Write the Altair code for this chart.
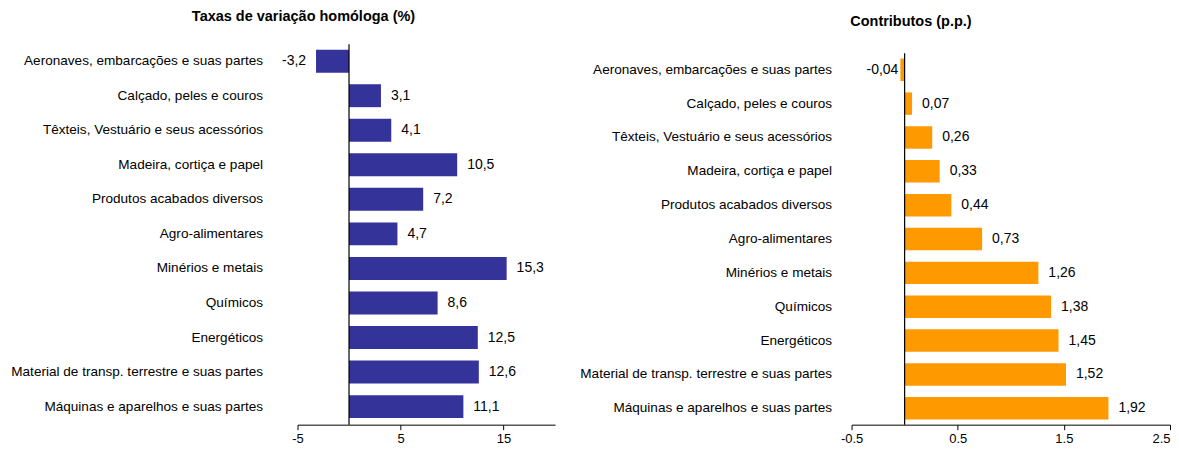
import altair as alt
import pandas as pd

categories = [
    "Aeronaves, embarcações e suas partes",
    "Calçado, peles e couros",
    "Têxteis, Vestuário e seus acessórios",
    "Madeira, cortiça e papel",
    "Produtos acabados diversos",
    "Agro-alimentares",
    "Minérios e metais",
    "Químicos",
    "Energéticos",
    "Material de transp. terrestre e suas partes",
    "Máquinas e aparelhos e suas partes",
]
taxas = [-3.2, 3.1, 4.1, 10.5, 7.2, 4.7, 15.3, 8.6, 12.5, 12.6, 11.1]
contributos = [-0.04, 0.07, 0.26, 0.33, 0.44, 0.73, 1.26, 1.38, 1.45, 1.52, 1.92]

FONT = "Liberation Sans, Arial, sans-serif"
H = 381


def fmt(v, d):
    return f"{v:.{d}f}".replace(".", ",")


df1 = pd.DataFrame({"cat": categories, "v": taxas, "lab": [fmt(v, 1) for v in taxas]})
df2 = pd.DataFrame({"cat": categories, "v": contributos, "lab": [fmt(v, 2) for v in contributos]})
zero = pd.DataFrame({"z": [0]})


def panel(df, color, domain, ticks, title, title_dx, width, label_pad, neg_dx,
          title_offset, y_scale, rule_top, label_align):
    y = alt.Y(
        "cat:N",
        sort=categories,
        title=None,
        scale=alt.Scale(**y_scale),
        axis=alt.Axis(
            domain=False, ticks=False, labelPadding=label_pad, labelFont=FONT,
            labelFontSize=13.6, labelColor="black", labelLimit=400,
        ),
    )
    x = alt.X(
        "v:Q",
        title=None,
        scale=alt.Scale(domain=domain, nice=False, zero=False),
        axis=alt.Axis(
            values=ticks, grid=False, domainColor="black", tickColor="black",
            tickSize=5, labelFont=FONT, labelFontSize=13, labelColor="black",
            labelPadding=3, labelFlush=False, labelExpr="toString(datum.value)",
            labelAlign=label_align,
        ),
    )
    base = alt.Chart(df)
    bars = base.mark_bar(color=color).encode(x=x, y=y, x2=alt.datum(0))
    pos = base.transform_filter("datum.v >= 0").mark_text(
        align="left", dx=10, font=FONT, fontSize=14, color="black"
    ).encode(x="v:Q", y=alt.Y("cat:N", sort=categories), text="lab:N")
    neg = base.transform_filter("datum.v < 0").mark_text(
        align="right", dx=neg_dx, font=FONT, fontSize=14, color="black"
    ).encode(x="v:Q", y=alt.Y("cat:N", sort=categories), text="lab:N")
    rule = alt.Chart(zero).mark_rule(color="black", strokeWidth=1.2).encode(
        x="z:Q", y=alt.value(rule_top), y2=alt.value(H)
    )
    return alt.layer(bars, rule, pos, neg).properties(
        width=width,
        height=H,
        title=alt.TitleParams(
            title, anchor="middle", frame="group", dx=title_dx, font=FONT,
            fontSize=14.5, fontWeight="bold", color="black", offset=title_offset,
        ),
    )


left = panel(
    df1, "#333399", [-5, 20], [-5, 5, 15], "Taxas de variação homóloga (%)",
    -123, 258, 35, -10, 19,
    {"paddingInner": 0.336, "paddingOuter": 0.173, "align": 0.45}, 0, "center",
)
right = panel(
    df2, "#FF9900", [-0.5, 2.5], [-0.5, 0.5, 1.5, 2.5], "Contributos (p.p.)",
    -100, 319, 20, -2, 14.5,
    {"paddingInner": 0.337, "paddingOuter": 0.287, "align": 0.733}, 9,
    {"condition": {"test": "datum.value == 2.5", "value": "right"}, "value": "center"},
)

chart = alt.hconcat(left, right, spacing=24).configure_view(stroke=None).properties(
    padding={"left": 2, "top": 0, "right": 0, "bottom": 0}
)

chart.save("out.html", embed_options={"renderer": "svg", "actions": False})
